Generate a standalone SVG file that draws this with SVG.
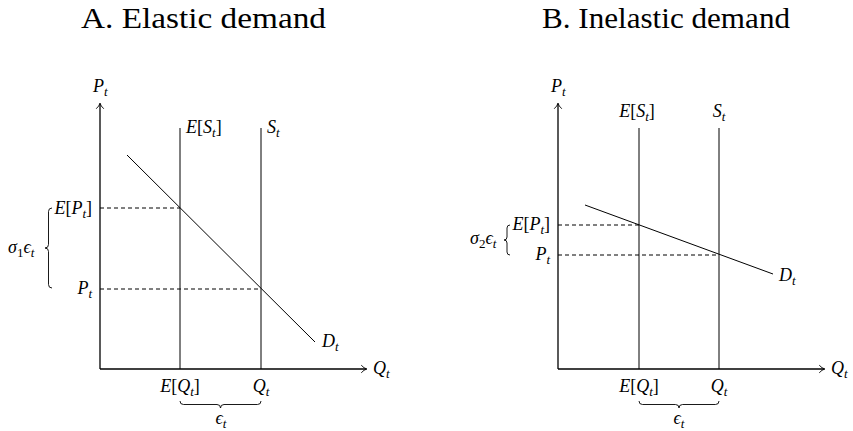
<svg xmlns="http://www.w3.org/2000/svg" width="853" height="431" viewBox="0 0 853 431" font-family="'Liberation Serif', 'Times New Roman', Tinos, 'DejaVu Serif', 'Noto Serif', FreeSerif, serif">
<style>
text{font-family:'Liberation Serif','Times New Roman',Tinos,'DejaVu Serif','Noto Serif',FreeSerif,serif;font-size:18px;fill:#000}
.title{font-size:30px}
.i{font-style:italic}
.s{font-size:13px}
.ax{stroke:#000;stroke-width:1.3;fill:none}
.ln{stroke:#000;stroke-width:1;fill:none}
.ds{stroke:#000;stroke-width:1;fill:none;stroke-dasharray:4 3}
.br{stroke:#000;stroke-width:0.9;fill:none}
.ah{stroke:#000;stroke-width:0.9;fill:none;stroke-linecap:round}
</style>
<text class="title" x="81" y="28" textLength="245" lengthAdjust="spacingAndGlyphs">A. Elastic demand</text>
<text class="title" x="542" y="28" textLength="248" lengthAdjust="spacingAndGlyphs">B. Inelastic demand</text>

<g id="panelA">
<g id="connectorsA">
<path class="ax" d="M100,369 V103.5"/>
<path class="ah" d="M96.5,108.5 Q99.3,106 100,103.2 Q100.7,106 103.5,108.5"/>
<path class="ax" d="M100,369 H366.5"/>
<path class="ah" d="M361.5,365.5 Q364,368.3 366.8,369 Q364,369.7 361.5,372.5"/>
<path class="ln" d="M180,128 V369"/>
<path class="ln" d="M261,128 V369"/>
<path class="ln" d="M127,155 L315,342"/>
<path class="ds" d="M100,208 H180"/>
<path class="ds" d="M100,289 H261"/>
<path class="br" d="M52,208 q-3.5,0 -3.5,3.5 L48.5,244.5 q0,3.5 -3.5,3.5 q3.5,0 3.5,3.5 L48.5,284.5 q0,3.5 3.5,3.5"/>
<path class="br" d="M180,401 q0,3.5 3.5,3.5 L217,404.5 q3.5,0 3.5,3.5 q0,-3.5 3.5,-3.5 L257.5,404.5 q3.5,0 3.5,-3.5"/>
</g>
<g id="labelsA">
<text x="93" y="92"><tspan class="i">P</tspan><tspan class="s i" dy="4">t</tspan></text>
<text x="373" y="374"><tspan class="i">Q</tspan><tspan class="s i" dy="4">t</tspan></text>
<text x="186" y="133"><tspan class="i">E</tspan>[<tspan class="i">S</tspan><tspan class="s i" dy="4">t</tspan><tspan dy="-4">]</tspan></text>
<text x="267" y="133"><tspan class="i">S</tspan><tspan class="s i" dy="4">t</tspan></text>
<text x="92" y="214" text-anchor="end"><tspan class="i">E</tspan>[<tspan class="i">P</tspan><tspan class="s i" dy="4">t</tspan><tspan dy="-4">]</tspan></text>
<text x="92" y="294" text-anchor="end"><tspan class="i">P</tspan><tspan class="s i" dy="4">t</tspan></text>
<text x="8" y="253"><tspan class="i">σ</tspan><tspan class="s" dy="4">1</tspan><tspan class="i" dy="-4">ϵ</tspan><tspan class="s i" dy="4">t</tspan></text>
<text x="322" y="347"><tspan class="i">D</tspan><tspan class="s i" dy="4">t</tspan></text>
<text x="180" y="392" text-anchor="middle"><tspan class="i">E</tspan>[<tspan class="i">Q</tspan><tspan class="s i" dy="4">t</tspan><tspan dy="-4">]</tspan></text>
<text x="261" y="392" text-anchor="middle"><tspan class="i">Q</tspan><tspan class="s i" dy="4">t</tspan></text>
<text x="221" y="424" text-anchor="middle"><tspan class="i">ϵ</tspan><tspan class="s i" dy="4">t</tspan></text>
</g>
</g>

<g id="panelB">
<g id="connectorsB">
<path class="ax" d="M558,369 V103.5"/>
<path class="ah" d="M554.5,108.5 Q557.3,106 558,103.2 Q558.7,106 561.5,108.5"/>
<path class="ax" d="M558,369 H824.5"/>
<path class="ah" d="M819.5,365.5 Q822,368.3 824.8,369 Q822,369.7 819.5,372.5"/>
<path class="ln" d="M639,128 V369"/>
<path class="ln" d="M719,128 V369"/>
<path class="ln" d="M585,205 L773,274"/>
<path class="ds" d="M558,225 H639"/>
<path class="ds" d="M558,255 H719"/>
<path class="br" d="M510,225 q-3,0 -3,3 L507,237 q0,3 -3,3 q3,0 3,3 L507,252 q0,3 3,3"/>
<path class="br" d="M639,401 q0,3.5 3.5,3.5 L675.5,404.5 q3.5,0 3.5,3.5 q0,-3.5 3.5,-3.5 L715.5,404.5 q3.5,0 3.5,-3.5"/>
</g>
<g id="labelsB">
<text x="551" y="92"><tspan class="i">P</tspan><tspan class="s i" dy="4">t</tspan></text>
<text x="831" y="374"><tspan class="i">Q</tspan><tspan class="s i" dy="4">t</tspan></text>
<text x="637" y="117" text-anchor="middle"><tspan class="i">E</tspan>[<tspan class="i">S</tspan><tspan class="s i" dy="4">t</tspan><tspan dy="-4">]</tspan></text>
<text x="719" y="117" text-anchor="middle"><tspan class="i">S</tspan><tspan class="s i" dy="4">t</tspan></text>
<text x="550" y="230" text-anchor="end"><tspan class="i">E</tspan>[<tspan class="i">P</tspan><tspan class="s i" dy="4">t</tspan><tspan dy="-4">]</tspan></text>
<text x="550" y="260" text-anchor="end"><tspan class="i">P</tspan><tspan class="s i" dy="4">t</tspan></text>
<text x="470" y="244"><tspan class="i">σ</tspan><tspan class="s" dy="4">2</tspan><tspan class="i" dy="-4">ϵ</tspan><tspan class="s i" dy="4">t</tspan></text>
<text x="779" y="281"><tspan class="i">D</tspan><tspan class="s i" dy="4">t</tspan></text>
<text x="639" y="392" text-anchor="middle"><tspan class="i">E</tspan>[<tspan class="i">Q</tspan><tspan class="s i" dy="4">t</tspan><tspan dy="-4">]</tspan></text>
<text x="719" y="392" text-anchor="middle"><tspan class="i">Q</tspan><tspan class="s i" dy="4">t</tspan></text>
<text x="679" y="424" text-anchor="middle"><tspan class="i">ϵ</tspan><tspan class="s i" dy="4">t</tspan></text>
</g>
</g>
</svg>
